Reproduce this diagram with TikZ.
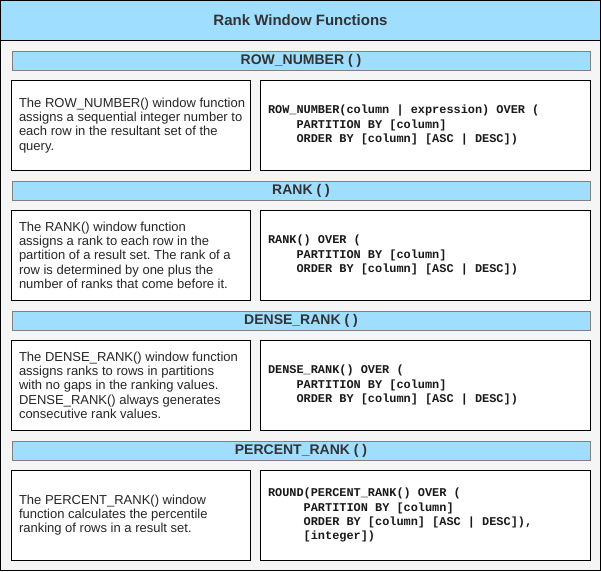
\documentclass[tikz,border=0pt]{standalone}
\usepackage{fontspec}
\setmainfont{Liberation Sans}
\setmonofont{Liberation Mono}
\usepackage[]{xcolor}
\usetikzlibrary{positioning}
\definecolor{barblue}{RGB}{160,222,255}
\definecolor{panelgray}{RGB}{245,245,245}
\definecolor{inkgray}{RGB}{51,51,51}
\tikzset{titlebar/.style = {draw=black, fill=barblue, minimum width=600pt, minimum height=40pt, inner sep=0, text=inkgray, font=\bfseries\fontsize{15}{17}\selectfont}}
\tikzset{headbar/.style = {draw=gray, fill=barblue, minimum width=578.6pt, minimum height=19.6pt, inner sep=0, text=inkgray, font=\bfseries\fontsize{14}{16}\selectfont}}
\tikzset{descbox/.style = {draw=black, fill=white, minimum width=239pt, minimum height=89.5pt, inner sep=0}}
\tikzset{codebox/.style = {draw=black, fill=white, minimum width=329.5pt, minimum height=89.5pt, inner sep=0}}
\tikzset{desc/.style = {align=left, inner sep=0, text=black!85, font=\fontsize{13}{14.3}\selectfont}}
\tikzset{code/.style = {align=left, inner sep=0, text=black!90, font=\ttfamily\bfseries\fontsize{11.9}{14.3}\selectfont}}
\newcommand{\ind}{\hphantom{XXXX}}
\newcommand{\indd}{\hphantom{XXXXX}}
\frenchspacing

\begin{document}
\begin{tikzpicture}[x=1pt,y=-1pt]
        \useasboundingbox (0,0) rectangle (601,571);
        \filldraw [fill=panelgray, draw=black, line width=1pt] (0.5,0.5) rectangle (600.5,570.5);
        \node [titlebar] (title) at (300.5,20.5) {Rank Window Functions};
        % ROW_NUMBER
        \node [headbar] (rownumHead) at (301,60.5) {ROW\_NUMBER ( )};
        \node [descbox] (rownumDesc) at (131,125.25) {};
        \node [codebox] (rownumCode) at (425.25,125.25) {};
        \node [desc, right=7.5pt of rownumDesc.west] (rownumText) {The ROW\_NUMBER() window function\\ assigns a sequential integer number to\\ each row in the resultant set of the\\ query.};
        \node [code, right=7.5pt of rownumCode.west] (rownumSql) {ROW\_NUMBER(column | expression) OVER (\\ \ind PARTITION BY [column]\\ \ind ORDER BY [column] [ASC | DESC])};
        % RANK
        \node [headbar] (rankHead) at (301,190.5) {RANK ( )};
        \node [descbox] (rankDesc) at (131,255.25) {};
        \node [codebox] (rankCode) at (425.25,255.25) {};
        \node [desc, right=7.5pt of rankDesc.west] (rankText) {The RANK() window function\\ assigns a rank to each row in the\\ partition of a result set. The rank of a\\ row is determined by one plus the\\ number of ranks that come before it.};
        \node [code, right=7.5pt of rankCode.west] (rankSql) {RANK() OVER (\\ \ind PARTITION BY [column]\\ \ind ORDER BY [column] [ASC | DESC])};
        % DENSE_RANK
        \node [headbar] (denseHead) at (301,320.5) {DENSE\_RANK ( )};
        \node [descbox] (denseDesc) at (131,385.25) {};
        \node [codebox] (denseCode) at (425.25,385.25) {};
        \node [desc, right=7.5pt of denseDesc.west] (denseText) {The DENSE\_RANK() window function\\ assigns ranks to rows in partitions\\ with no gaps in the ranking values.\\ DENSE\_RANK() always generates\\ consecutive rank values.};
        \node [code, right=7.5pt of denseCode.west] (denseSql) {DENSE\_RANK() OVER (\\ \ind PARTITION BY [column]\\ \ind ORDER BY [column] [ASC | DESC])};
        % PERCENT_RANK
        \node [headbar] (percentHead) at (301,450.5) {PERCENT\_RANK ( )};
        \node [descbox] (percentDesc) at (131,515.25) {};
        \node [codebox] (percentCode) at (425.25,515.25) {};
        \node [desc, right=7.5pt of percentDesc.west] (percentText) {The PERCENT\_RANK() window\\ function calculates the percentile\\ ranking of rows in a result set.};
        \node [code, right=7.5pt of percentCode.west] (percentSql) {ROUND(PERCENT\_RANK() OVER (\\ \indd PARTITION BY [column]\\ \indd ORDER BY [column] [ASC | DESC]),\\ \indd [integer])};
    \end{tikzpicture}
\end{document}
